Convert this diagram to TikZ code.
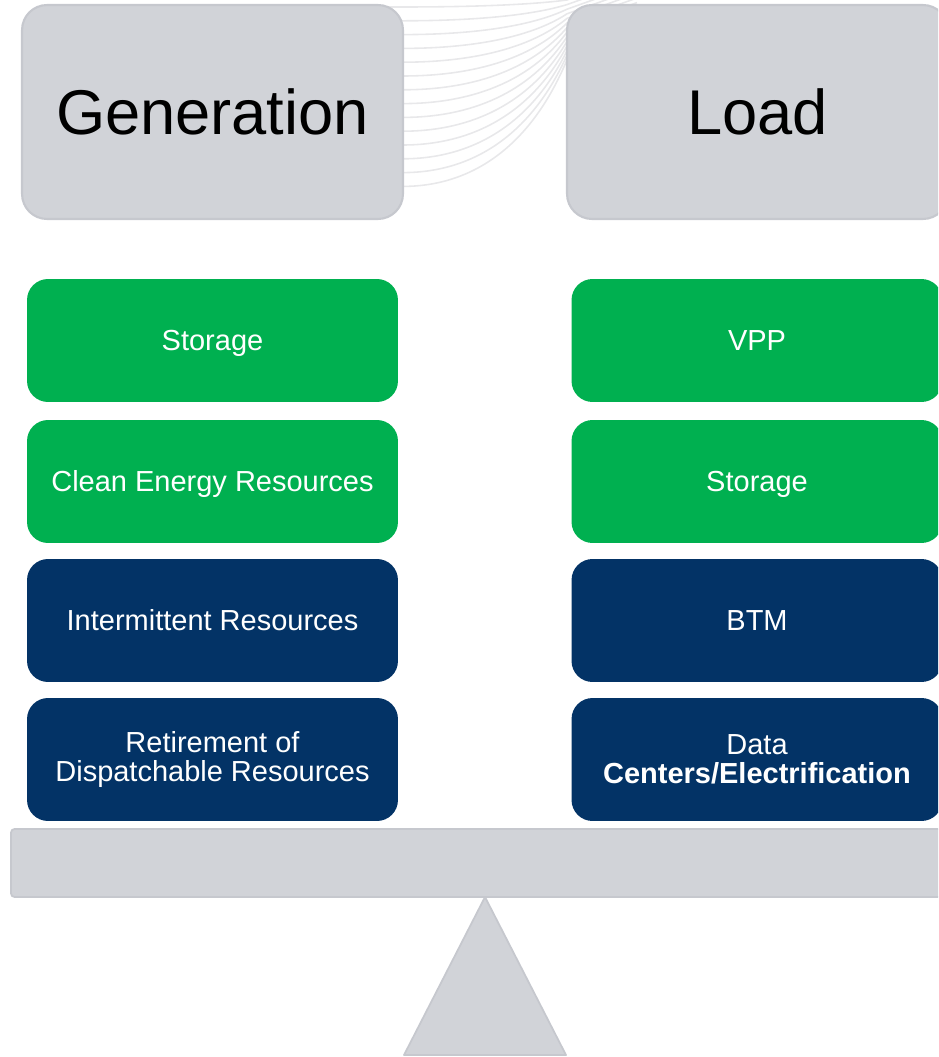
\documentclass[tikz,border=0pt]{standalone}
\usepackage{fontspec}
\setmainfont{Liberation Sans}

\definecolor{panelgray}{HTML}{D1D3D8}
\definecolor{panelline}{HTML}{C6C8CE}
\definecolor{ecogreen}{HTML}{00B050}
\definecolor{gridnavy}{HTML}{033366}
\definecolor{swirl}{HTML}{E8E8EA}

\tikzset{
  header/.style={draw=panelline, line width=1.2pt, fill=panelgray, rounded corners=0.5cm,
    minimum width=7.62cm, minimum height=4.28cm, font=\fontsize{36}{40}\selectfont},
  item/.style={rounded corners=0.42cm, minimum width=7.42cm, minimum height=2.46cm,
    text=white, align=center, font=\fontsize{16.5}{16.8}\selectfont,
    text height=13.2pt, text depth=1.4pt},
  twoline/.style={text height={}, text depth={}},
  greenitem/.style={item, fill=ecogreen},
  navyitem/.style={item, fill=gridnavy},
  scalepart/.style={fill=panelgray, draw=panelline, line width=1pt},
}

\begin{document}
\begin{tikzpicture}[x=0.02cm, y=-0.02cm]
    \clip (0,0) rectangle (938,1057);

    % Fondo: líneas curvas
    \foreach \i in {0,...,13} {
        \pgfmathsetmacro{\ya}{7+13.8*\i}
        \pgfmathsetmacro{\yb}{4.6*\i}
        \draw[swirl, line width=0.9pt] (200,\ya) -- (403,\ya)
            .. controls (470,\ya) and (530,{\yb+0.7*(\ya-\yb)}) .. (567,\yb) -- ++(70,-25);
    }

    % Encabezados
    \node[header] (gen) at (212.5,112) {Generation};
    \node[header] (load) at (757.5,112) {Load};

    % Columna de generación
    \node[greenitem] (genstorage) at (212.5,340.5) {Storage};
    \node[greenitem] (clean) at (212.5,481.5) {Clean Energy Resources};
    \node[navyitem] (intermittent) at (212.5,620.5) {Intermittent Resources};
    \node[navyitem, twoline] (retire) at (212.5,759.5) {Retirement of\\Dispatchable Resources};

    % Columna de carga
    \node[greenitem] (vpp) at (757,340.5) {VPP};
    \node[greenitem] (loadstorage) at (757,481.5) {Storage};
    \node[navyitem] (btm) at (757,620.5) {BTM};
    \node[navyitem, twoline] (datacenters) at (757,759.5) {Data\\\textbf{Centers/Electrification}};

    % Balanza
    \draw[scalepart, rounded corners=2pt] (11,829) rectangle (960,897);
    \draw[scalepart, line join=round] (485,897) -- (566,1055) -- (404,1055) -- cycle;
\end{tikzpicture}
\end{document}
